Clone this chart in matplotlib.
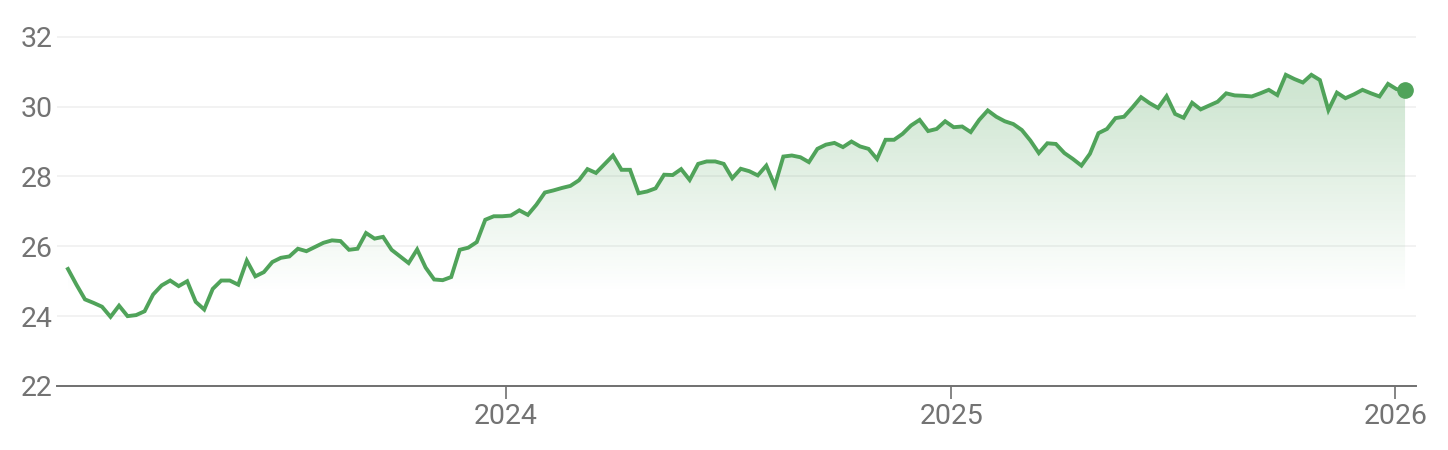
import numpy as np
import pandas as pd
import matplotlib
matplotlib.use("Agg")
import matplotlib.pyplot as plt
import matplotlib.dates as mdates

# weekly closes
dates = pd.date_range("2023-01-06", periods=158, freq="W-FRI")
prices = [
    25.35, 24.9, 24.48, 24.38, 24.27, 23.98, 24.30, 24.0, 24.03, 24.14,
    24.62, 24.88, 25.02, 24.86, 25.0, 24.41, 24.19, 24.78, 25.02, 25.02,
    24.9, 25.59, 25.14, 25.26, 25.55, 25.67,
    25.71, 25.93, 25.86, 25.98, 26.1, 26.17, 26.15, 25.9, 25.93, 26.38,
    26.22, 26.27, 25.9, 25.71, 25.52, 25.91, 25.39, 25.05, 25.03, 25.12,
    25.9, 25.96, 26.12, 26.76, 26.86, 26.86, 26.88,
    27.03, 26.9, 27.19, 27.54, 27.6, 27.67, 27.73, 27.89, 28.21, 28.1,
    28.35, 28.6, 28.19, 28.19, 27.52, 27.57, 27.66, 28.05, 28.04, 28.21,
    27.9, 28.36, 28.43, 28.43, 28.36, 27.95,
    28.22, 28.15, 28.03, 28.31, 27.74, 28.57, 28.6, 28.55, 28.41, 28.79,
    28.91, 28.96, 28.84, 29.0, 28.86, 28.79, 28.5, 29.05, 29.05, 29.22,
    29.46, 29.62, 29.3, 29.36, 29.58, 29.41,
    29.43, 29.27, 29.62, 29.89, 29.71, 29.58, 29.5, 29.33, 29.03, 28.67,
    28.95, 28.93, 28.67, 28.5, 28.31, 28.65, 29.24, 29.36, 29.67, 29.71,
    29.98, 30.27, 30.1, 29.96, 30.3, 29.79, 29.68,
    30.11, 29.92, 30.03, 30.14, 30.38, 30.32, 30.31, 30.29, 30.38, 30.48,
    30.33, 30.91, 30.79, 30.69, 30.91, 30.76, 29.9, 30.4, 30.24, 30.35,
    30.48, 30.38, 30.29, 30.65, 30.5, 30.48,
]
yticks = [22, 24, 26, 28, 30, 32]
xtick_years = ["2024", "2025", "2026"]

green = "#50a35a"
gray = "#737373"

plt.rcParams["font.family"] = ["Roboto", "DejaVu Sans"]

fig = plt.figure(figsize=(14.48, 4.5), dpi=100)
ax = fig.add_axes([57 / 1448, 1 - 386 / 450, (1416 - 57) / 1448, (386 - 35) / 450])

x = mdates.date2num(dates)
y = np.array(prices)

# gradient fill under the line, fading out around 24.7
poly = ax.fill_between(x, y, 22, color="none", lw=0)
grad_top, grad_bot = 31.0, 24.7
n = 256
alpha = np.linspace(0.30, 0.0, n)[:, None]
rgba = np.zeros((n, 1, 4))
rgba[..., 0] = 0.31
rgba[..., 1] = 0.64
rgba[..., 2] = 0.35
rgba[..., 3] = alpha
im = ax.imshow(rgba, aspect="auto", extent=[x[0], x[-1], grad_bot, grad_top],
               origin="upper", zorder=1, interpolation="bilinear")
im.set_clip_path(poly.get_paths()[0], transform=ax.transData)

ax.plot(x, y, color=green, lw=2.8, zorder=3, solid_joinstyle="miter")
ax.plot(x[-1], y[-1], "o", color=green, ms=11, zorder=4)

ax.set_ylim(22, 32.05)
ax.set_xlim(mdates.date2num(pd.Timestamp("2022-12-28")),
            mdates.date2num(pd.Timestamp("2026-01-18")))
ax.set_yticks(yticks)
ax.set_yticklabels([str(t) for t in yticks])
for t in yticks[1:]:
    ax.axhline(t, color="#f0f0f0", lw=1.2, zorder=0)

ax.set_xticks([mdates.date2num(pd.Timestamp(f"{yr}-01-01")) for yr in xtick_years])
ax.set_xticklabels(xtick_years)

for s in ["top", "right", "left"]:
    ax.spines[s].set_visible(False)
ax.spines["bottom"].set_color("#707070")
ax.spines["bottom"].set_linewidth(1.4)

ax.tick_params(axis="y", length=0, pad=3, labelsize=20.5, labelcolor=gray)
ax.tick_params(axis="x", length=9, width=1.2, color="#707070", pad=3,
               labelsize=20.5, labelcolor=gray)

fig.savefig("out.png", dpi=100, facecolor="white")
